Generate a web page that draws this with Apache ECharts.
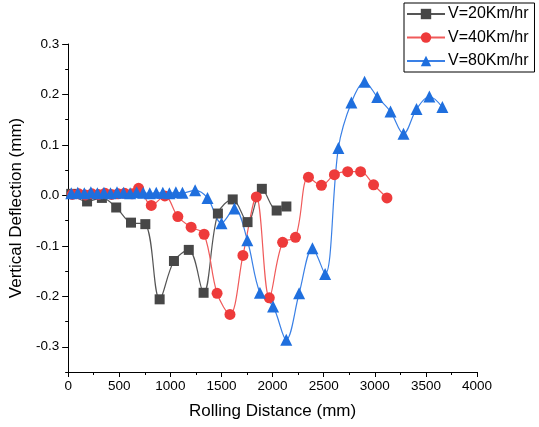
<!DOCTYPE html>
<html>
<head>
<meta charset="utf-8">
<script src="https://cdn.jsdelivr.net/npm/echarts@6/dist/echarts.min.js"></script>
<style>
  html, body { margin: 0; padding: 0; background: #fff; }
  #chart { width: 539px; height: 427px; }
</style>
</head>
<body>
<div id="chart"></div>
<script>
// Deflection measurements: [rolling distance (mm), vertical deflection (mm)]
const seriesNames = ['V=20Km/hr', 'V=40Km/hr', 'V=80Km/hr'];

const v20 = [
  [30, 0.003], [185, -0.012], [330, -0.005], [470, -0.024], [615, -0.054],
  [755, -0.057], [895, -0.206], [1035, -0.130], [1180, -0.108], [1325, -0.193],
  [1465, -0.036], [1610, -0.008], [1755, -0.053], [1895, 0.013], [2040, -0.030],
  [2135, -0.022]
];

const v40 = [
  [40, 0.002], [104, 0.003], [168, 0.001], [232, 0.003], [296, 0.002],
  [360, 0.004], [424, 0.002], [488, 0.003], [552, 0.004], [625, 0.003],
  [689, 0.014], [813, -0.020], [946, -0.001], [1073, -0.042], [1203, -0.063],
  [1330, -0.077], [1457, -0.194], [1583, -0.236], [1710, -0.119], [1841, -0.003],
  [1968, -0.203], [2098, -0.093], [2224, -0.083], [2351, 0.036], [2478, 0.020],
  [2605, 0.041], [2735, 0.047], [2861, 0.047], [2988, 0.021], [3119, -0.005]
];

const v80 = [
  [30, 0.004], [94, 0.005], [158, 0.004], [222, 0.006], [286, 0.004],
  [350, 0.005], [414, 0.004], [478, 0.006], [542, 0.005], [606, 0.004],
  [670, 0.006], [734, 0.005], [798, 0.004], [862, 0.005], [926, 0.005],
  [990, 0.004], [1054, 0.006], [1118, 0.005],
  [1242, 0.010], [1363, -0.005], [1500, -0.055], [1627, -0.026], [1753, -0.089],
  [1876, -0.193], [2005, -0.220], [2134, -0.286], [2260, -0.194], [2390, -0.105],
  [2514, -0.156], [2644, 0.094], [2771, 0.184], [2900, 0.225], [3024, 0.195],
  [3154, 0.166], [3281, 0.122], [3408, 0.171], [3534, 0.196], [3661, 0.175]
];

const xTicks = [0, 500, 1000, 1500, 2000, 2500, 3000, 3500, 4000];
const yTicks = [-0.3, -0.2, -0.1, 0, 0.1, 0.2, 0.3];

const FONT = '"Liberation Sans", Arial, sans-serif';
const colors = ['#474747', '#ee3b3b', '#1f6fde'];
const lineColors = ['#555555', '#f05a5a', '#3a80e6'];

const chart = echarts.init(document.getElementById('chart'), null, { renderer: 'canvas' });

function makeSeries(name, data, symbol, size, idx) {
  return {
    name: name,
    type: 'line',
    xAxisIndex: 0,
    yAxisIndex: 0,
    data: data,
    smooth: 0.35,
    symbol: symbol,
    symbolSize: size,
    showAllSymbol: true,
    lineStyle: { color: lineColors[idx], width: 1.2 },
    itemStyle: { color: colors[idx], borderWidth: 0 },
    emphasis: { disabled: true },
    animation: false
  };
}

chart.setOption({
  animation: false,
  backgroundColor: '#fff',
  textStyle: { fontFamily: FONT },
  grid: { left: 67, right: 62, top: 44, bottom: 55, containLabel: false },
  legend: {
    orient: 'vertical',
    left: 404,
    top: 3,
    padding: [3, 6, 3, 2],
    itemWidth: 38,
    itemHeight: 13,
    itemGap: 7.5,
    borderColor: '#000',
    borderWidth: 1,
    textStyle: { fontSize: 16, color: '#000', fontFamily: FONT, padding: [0, 0, 0, -2] },
    data: seriesNames
  },
  xAxis: {
    type: 'value',
    min: 0,
    max: 4000,
    interval: 500,
    name: 'Rolling Distance (mm)',
    nameLocation: 'middle',
    nameGap: 31,
    nameTextStyle: { fontSize: 17, color: '#000', fontFamily: FONT },
    axisLine: { onZero: false, lineStyle: { color: '#000', width: 1 } },
    axisTick: { show: true, length: 5, inside: false, lineStyle: { color: '#000' }, customValues: xTicks },
    minorTick: { show: true, splitNumber: 2, length: 3, lineStyle: { color: '#000' } },
    axisLabel: {
      fontSize: 13.5, color: '#000', margin: 7, fontFamily: FONT,
      customValues: xTicks,
      formatter: v => String(Math.round(v))
    },
    splitLine: { show: false }
  },
  yAxis: [{
    type: 'value',
    min: -0.35,
    max: 0.3,
    interval: 0.05,
    name: 'Vertical Deflection (mm)',
    nameLocation: 'middle',
    nameGap: 36,
    nameTextStyle: { fontSize: 17, color: '#000', fontFamily: FONT },
    axisLine: { show: true, onZero: false, lineStyle: { color: '#000', width: 1 } },
    axisTick: { show: true, length: 6, inside: false, lineStyle: { color: '#000' }, customValues: yTicks },
    axisLabel: {
      fontSize: 13.5, color: '#000', margin: 9, fontFamily: FONT,
      customValues: yTicks,
      formatter: v => (Math.abs(v) < 1e-9 ? 0 : v).toFixed(1)
    },
    splitLine: { show: false }
  }, {
    // short ticks every 0.05 mm
    type: 'value',
    position: 'left',
    min: -0.35,
    max: 0.3,
    interval: 0.05,
    axisLine: { show: false },
    axisTick: { show: true, length: 3, inside: false, lineStyle: { color: '#000' } },
    axisLabel: { show: false },
    splitLine: { show: false }
  }],
  series: [
    makeSeries(seriesNames[0], v20, 'rect', 10, 0),
    makeSeries(seriesNames[1], v40, 'circle', 11, 1),
    makeSeries(seriesNames[2], v80, 'triangle', 12, 2)
  ]
});
</script>
</body>
</html>
